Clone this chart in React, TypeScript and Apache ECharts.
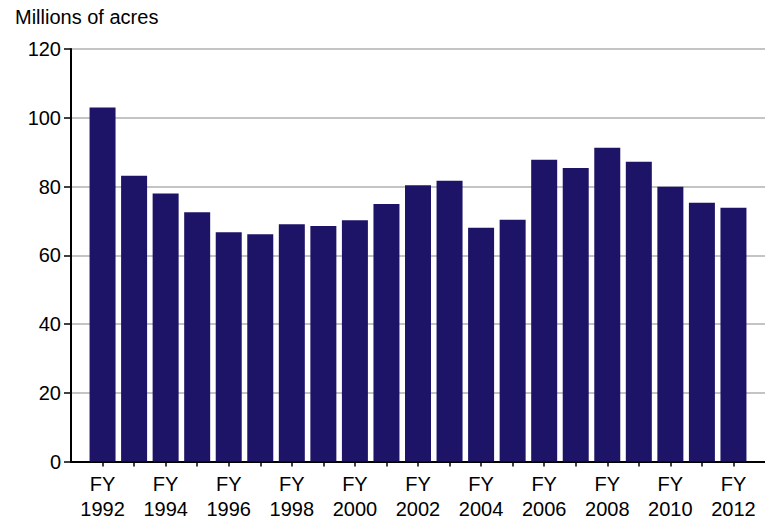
import React, { useEffect, useRef } from "react";
import * as echarts from "echarts";

const years: number[] = [1992, 1993, 1994, 1995, 1996, 1997, 1998, 1999, 2000, 2001, 2002, 2003, 2004, 2005, 2006, 2007, 2008, 2009, 2010, 2011, 2012];
const acres: number[] = [103, 83.1, 78, 72.5, 66.7, 66.1, 69, 68.5, 70.2, 74.9, 80.4, 81.7, 68, 70.3, 87.8, 85.4, 91.3, 87.2, 79.9, 75.3, 73.8];
const labelYears: number[] = [1992, 1994, 1996, 1998, 2000, 2002, 2004, 2006, 2008, 2010, 2012];
const yTicks = { min: 0, max: 120, interval: 20 };
const titleText = "Millions of acres";

const FONT = "'Liberation Sans', Arial, sans-serif";

export default function App() {
  const ref = useRef<HTMLDivElement>(null);
  useEffect(() => {
    if (!ref.current) return;
    const chart = echarts.init(ref.current, undefined, { renderer: "svg" });
    chart.setOption({
      animation: false,
      backgroundColor: "#fff",
      title: {
        text: titleText,
        left: 10,
        top: 2,
        textStyle: { fontFamily: FONT, fontSize: 20, fontWeight: "normal", color: "#000" },
      },
      grid: { left: 71, right: -3, top: 49, bottom: 63.5, containLabel: false },
      xAxis: [
        {
          type: "value",
          min: 1991,
          max: 2013,
          interval: 1,
          axisLine: { show: true, onZero: false, lineStyle: { color: "#000", width: 2 } },
          axisTick: { show: true, length: 5, customValues: years, lineStyle: { color: "#000", width: 1.5 } },
          splitLine: { show: false },
          axisLabel: {
            customValues: labelYears,
            formatter: (v: number) => "FY\n" + v,
            fontFamily: FONT,
            fontSize: 20,
            color: "#000",
            lineHeight: 25,
            margin: 10,
          },
        },
        {
          type: "value",
          position: "top",
          min: 1991,
          max: 2013,
          axisLine: { show: true, lineStyle: { color: "#000", width: 2 } },
          axisTick: { show: false },
          axisLabel: { show: false },
          splitLine: { show: false },
        },
      ],
      yAxis: {
        type: "value",
        min: yTicks.min,
        max: yTicks.max,
        interval: yTicks.interval,
        axisLine: { show: true, lineStyle: { color: "#000", width: 2 } },
        axisTick: { show: true, length: 7, lineStyle: { color: "#000", width: 1.5 } },
        splitLine: { show: true, lineStyle: { color: "#c4c4c4", width: 2 } },
        axisLabel: { fontFamily: FONT, fontSize: 20, color: "#000", margin: 10 },
      },
      series: [
        {
          type: "bar",
          xAxisIndex: 0,
          barWidth: 26,
          itemStyle: { color: "#1d1468" },
          data: years.map((y, i) => [y, acres[i]]),
        },
      ],
    });
    return () => chart.dispose();
  }, []);
  return <div ref={ref} style={{ position: "fixed", left: 0, top: 0, width: 765, height: 525 }} />;
}
